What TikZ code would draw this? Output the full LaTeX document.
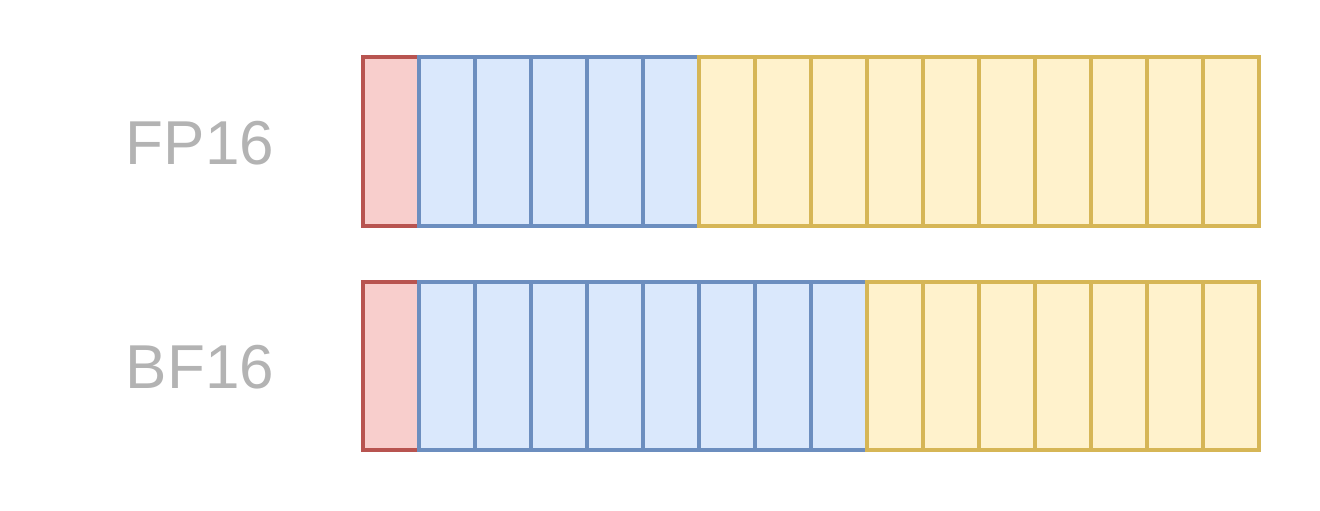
\documentclass[tikz,border=0pt]{standalone}
\usepackage{fontspec}
\setmainfont{Liberation Sans}
\definecolor{signfill}{HTML}{F8CECC}
\definecolor{signline}{HTML}{B85450}
\definecolor{expfill}{HTML}{DAE8FC}
\definecolor{expline}{HTML}{6C8EBF}
\definecolor{manfill}{HTML}{FFF2CC}
\definecolor{manline}{HTML}{D6B656}
\definecolor{labelgrey}{HTML}{B3B3B3}
\begin{document}
\begin{tikzpicture}[x=1pt, y=-1pt, every node/.style={rectangle, draw, line width=4pt, minimum width=56pt, minimum height=168pt, inner sep=0pt, outer sep=0pt}]
		\tikzstyle{signbit} = [fill=signfill, draw=signline]
		\tikzstyle{expbit} = [fill=expfill, draw=expline]
		\tikzstyle{manbit} = [fill=manfill, draw=manline]
		\tikzstyle{fmtlabel} = [draw=none, text=labelgrey, minimum width=0pt, minimum height=0pt, inner sep=2pt, font=\fontsize{62}{68}\selectfont]
		
		\useasboundingbox (0,0) rectangle (1320,511);
		
		% FP16: 1 sign, 5 exponent, 10 mantissa
		\node[fmtlabel] (fplabel) at (200,143) {FP16};
		\foreach \i in {1} \node[signbit] (fp\i) at ({391+56*(\i-1)},141.5) {};
		\foreach \i in {2,...,6} \node[expbit] (fp\i) at ({391+56*(\i-1)},141.5) {};
		\foreach \i in {7,...,16} \node[manbit] (fp\i) at ({391+56*(\i-1)},141.5) {};
		
		% BF16: 1 sign, 8 exponent, 7 mantissa
		\node[fmtlabel] (bflabel) at (200,367) {BF16};
		\foreach \i in {1} \node[signbit] (bf\i) at ({391+56*(\i-1)},365.5) {};
		\foreach \i in {2,...,9} \node[expbit] (bf\i) at ({391+56*(\i-1)},365.5) {};
		\foreach \i in {10,...,16} \node[manbit] (bf\i) at ({391+56*(\i-1)},365.5) {};
	\end{tikzpicture}
\end{document}
